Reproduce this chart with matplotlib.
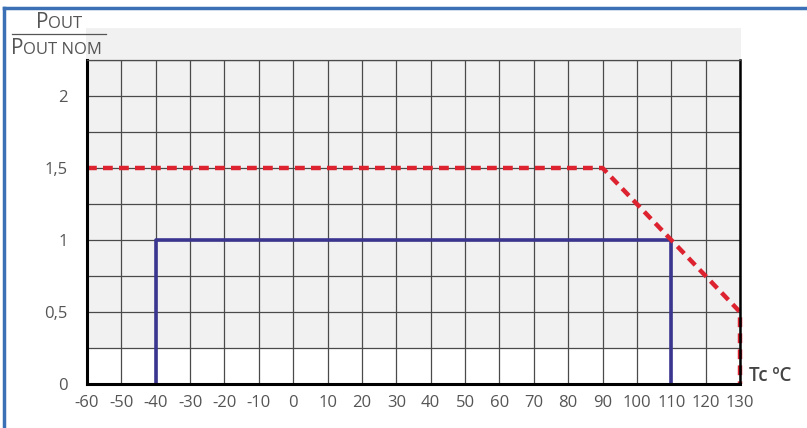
import matplotlib.pyplot as plt
from matplotlib.patches import Rectangle
from matplotlib.lines import Line2D

# derating curves (case temperature vs relative output power)
max_temp = [-60, 90, 130, 130]
max_power = [1.5, 1.5, 0.5, 0]
nom_temp = [-40, -40, 110, 110]
nom_power = [0, 1, 1, 0]

x_ticks = list(range(-60, 131, 10))
y_ticks = [0, 0.5, 1, 1.5, 2]
y_labels = ['0', '0,5', '1', '1,5', '2']

W, H = 807, 428
plt.rcParams['font.family'] = ['Open Sans', 'DejaVu Sans']
fig = plt.figure(figsize=(W / 100, H / 100), dpi=100)

def fx(px):
    return px / W

def fy(py):
    return 1 - py / H

# light grey panel behind the grid (white strip at the bottom)
fig.patches.append(Rectangle((fx(86), fy(348)), fx(741) - fx(86), fy(28) - fy(348),
                             transform=fig.transFigure, facecolor='#f1f1f1',
                             edgecolor='none', zorder=-5))
# blue frame on left and top
fig.lines.append(Line2D([fx(4), fx(4)], [0, fy(8)], transform=fig.transFigure,
                        color='#3b6fb6', lw=2.5))
fig.lines.append(Line2D([fx(4), 1], [fy(8), fy(8)], transform=fig.transFigure,
                        color='#3b6fb6', lw=2.5))

ax = fig.add_axes([fx(87), fy(384), fx(740) - fx(87), fy(60) - fy(384)])
ax.set_facecolor('none')
ax.set_zorder(2)
ax.set_xlim(-60, 130)
ax.set_ylim(0, 2.25)

for x in x_ticks:
    ax.axvline(x, color='#4a4a4a', lw=0.9, zorder=1)
for i in range(1, 10):
    ax.axhline(i * 0.25, color='#4a4a4a', lw=0.9, zorder=1)

ax.plot(nom_temp, nom_power, color='#3a358f', lw=2.6, zorder=3, clip_on=False)
ax.plot(max_temp, max_power, color='#dd2330', lw=3.2, ls=(0, (2.2, 1.4)),
        zorder=4, clip_on=False)

ax.set_xticks(x_ticks)
ax.set_xticklabels([str(v) for v in x_ticks])
ax.set_yticks(y_ticks)
ax.set_yticklabels(y_labels)
ax.tick_params(length=0, labelsize=12, labelcolor='#555555')
ax.tick_params(axis='x', pad=8)
ax.tick_params(axis='y', pad=14)

ax.spines['left'].set_linewidth(2.2)
ax.spines['bottom'].set_linewidth(2.2)
ax.spines['right'].set_linewidth(1.8)
ax.spines['top'].set_linewidth(0.9)
ax.spines['top'].set_color('#4a4a4a')
for s in ax.spines.values():
    s.set_zorder(5)

ax.text(1.014, 0.025, 'Tc ºC', transform=ax.transAxes, fontsize=13.5,
        color='#444444', fontweight='semibold', ha='left', va='center')

# y label as a small-caps fraction
txt = '#555555'
fig.text(fx(36), fy(28), 'P', fontsize=15, color=txt, ha='left', va='baseline')
fig.text(fx(48), fy(28), 'OUT', fontsize=12, color=txt, ha='left', va='baseline')
fig.lines.append(Line2D([fx(12), fx(106)], [fy(34), fy(34)], transform=fig.transFigure,
                        color=txt, lw=0.9))
fig.text(fx(11), fy(54), 'P', fontsize=15, color=txt, ha='left', va='baseline')
fig.text(fx(23), fy(54), 'OUT NOM', fontsize=12, color=txt, ha='left', va='baseline')

fig.savefig('out.png', dpi=100)
